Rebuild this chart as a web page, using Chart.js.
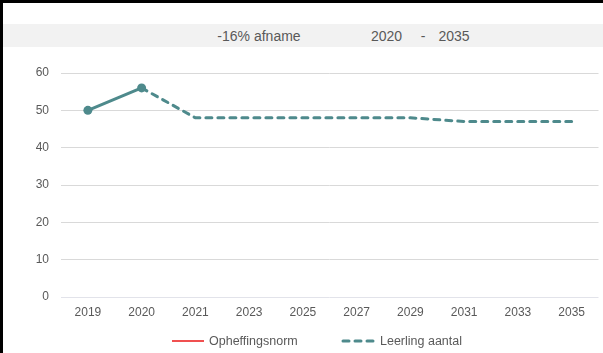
<!DOCTYPE html>
<html><head><meta charset="utf-8">
<script src="https://cdn.jsdelivr.net/npm/chart.js@4/dist/chart.umd.min.js"></script>
<style>
html,body{margin:0;padding:0;background:#fff;}
#wrap{position:relative;width:603px;height:353px;overflow:hidden;font-family:"Liberation Sans",Arial,sans-serif;}
#band{position:absolute;left:3px;top:24px;width:600px;height:23px;background:#f2f2f2;}
.t{position:absolute;top:1px;height:23px;line-height:23px;font-size:14px;color:#595959;transform:translateX(-50%);white-space:pre;}
#bt{position:absolute;left:0;top:0;width:603px;height:3px;background:#000;z-index:3;}
#bl{position:absolute;left:0;top:0;width:3px;height:353px;background:#000;z-index:3;}
canvas{position:absolute;left:0;top:0;z-index:2;}
</style></head>
<body>
<div id="wrap">
  <div id="band"></div>
  <canvas id="c" width="603" height="353"></canvas>
  <div id="bt"></div><div id="bl"></div>
</div>
<script>
// ---- data ----
const categories = ['2019','2020','2021','2023','2025','2027','2029','2031','2033','2035'];
const leerlingHistorisch = [50, 56, null, null, null, null, null, null, null, null];
const leerlingPrognose   = [null, 56, 48, 48, 48, 48, 48, 47, 47, 47];
const opheffingsnorm     = [null, null, null, null, null, null, null, null, null, null];
const yTicks = [0, 10, 20, 30, 40, 50, 60];
const titleParts = ['-16% afname', '2020', '-', '2035'];
const titleCenters = [256, 383.5, 420, 451];

// title band
const band = document.getElementById('band');
titleParts.forEach((txt, i) => {
  const s = document.createElement('span');
  s.className = 't';
  s.style.left = titleCenters[i] + 'px';
  s.textContent = txt;
  band.appendChild(s);
});

const FONT = '"Liberation Sans", Arial, sans-serif';
const TEAL = '#4E8A8C';
const TXT = '#595959';

const customLegend = {
  id: 'customLegend',
  afterDraw(chart, args, opts) {
    const ctx = chart.ctx;
    let k = 0;
    chart.data.datasets.forEach(ds => {
      if (ds.hideInLegend) return;
      const x = opts.itemX[k++];
      const y = opts.y;
      ctx.save();
      ctx.strokeStyle = ds.borderColor;
      ctx.lineWidth = ds.borderWidth;
      ctx.lineCap = ds.borderCapStyle || 'butt';
      ctx.setLineDash(ds.borderDash || []);
      ctx.beginPath();
      ctx.moveTo(x, y);
      ctx.lineTo(x + opts.lineLength, y);
      ctx.stroke();
      ctx.setLineDash([]);
      ctx.font = opts.fontSize + 'px ' + FONT;
      ctx.fillStyle = TXT;
      ctx.textBaseline = 'middle';
      ctx.textAlign = 'left';
      ctx.fillText(ds.label, x + opts.lineLength + opts.textGap, y + 0.5);
      ctx.restore();
    });
  }
};

new Chart(document.getElementById('c'), {
  type: 'line',
  data: {
    labels: categories,
    datasets: [
      {
        label: 'Opheffingsnorm',
        data: opheffingsnorm,
        borderColor: '#F05050',
        backgroundColor: '#F05050',
        borderWidth: 2,
        pointRadius: 0,
        order: 2
      },
      {
        label: 'Leerling aantal',
        data: leerlingPrognose,
        borderColor: TEAL,
        backgroundColor: TEAL,
        borderWidth: 3,
        borderDash: [6, 6],
        borderCapStyle: 'round',
        pointRadius: 0,
        tension: 0,
        order: 1
      },
      {
        label: 'Leerling aantal',
        hideInLegend: true,
        data: leerlingHistorisch,
        borderColor: TEAL,
        backgroundColor: TEAL,
        borderWidth: 3,
        borderCapStyle: 'round',
        pointRadius: 4.5,
        pointBorderWidth: 0,
        pointBackgroundColor: TEAL,
        tension: 0,
        order: 0
      }
    ]
  },
  options: {
    responsive: false,
    animation: false,
    layout: { padding: { left: 0, right: 0, top: 73, bottom: 32 } },
    plugins: {
      legend: { display: false },
      tooltip: { enabled: false },
      title: { display: false },
      customLegend: { itemX: [172, 343], y: 341, lineLength: 32, textGap: 5, fontSize: 12.5 }
    },
    scales: {
      x: {
        offset: true,
        grid: { display: false, drawTicks: false },
        border: { display: false },
        ticks: { padding: 8, color: TXT, font: { size: 12, family: FONT }, maxRotation: 0, autoSkip: false },
        afterFit(s) { s.height = 24; }
      },
      y: {
        min: 0, max: 60,
        afterBuildTicks(s) { s.ticks = yTicks.map(v => ({ value: v })); },
        grid: {
          drawTicks: false,
          lineWidth: 1,
          color: c => (c.tick && c.tick.value === 0) ? '#e2e3ea' : '#d9d9d9'
        },
        border: { display: false },
        ticks: { padding: 12, color: TXT, font: { size: 12, family: FONT } },
        afterFit(s) { s.width = 61; }
      }
    }
  },
  plugins: [customLegend]
});
</script>
</body></html>
